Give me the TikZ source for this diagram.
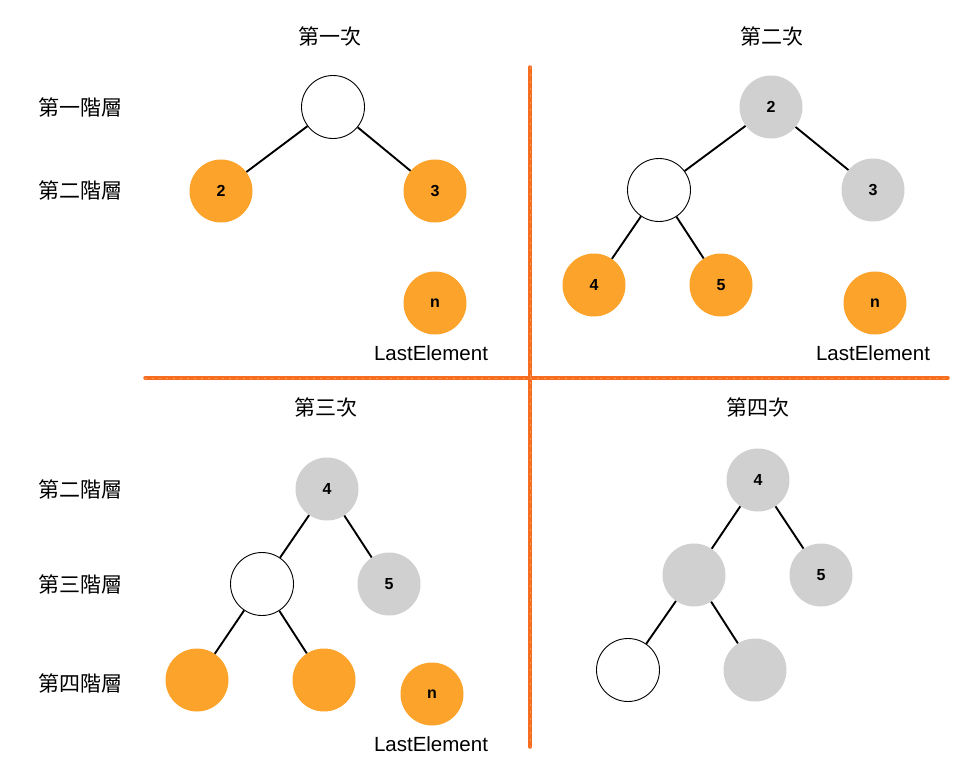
\documentclass[tikz,border=0pt]{standalone}
\usepackage{fontspec}
\setmainfont{Liberation Sans}
\newfontfamily\cjk{Noto Sans CJK TC}
\definecolor{orfill}{RGB}{252,163,43}
\definecolor{grfill}{RGB}{208,208,208}
\definecolor{divider}{RGB}{248,110,32}
\definecolor{dividerlight}{RGB}{252,150,90}
\begin{document}
\begin{tikzpicture}[x=1pt,y=-1pt,
  base/.style={circle,minimum size=63pt,inner sep=0pt,font=\fontsize{16}{18}\selectfont\bfseries},
  wnode/.style={base,draw=black,line width=0.9pt,fill=white},
  onode/.style={base,fill=orfill},
  gnode/.style={base,fill=grfill},
  lbl/.style={font=\cjk\fontsize{21}{25}\selectfont,inner sep=0pt},
  last/.style={font=\fontsize{20.5}{24}\selectfont,inner sep=0pt},
  edge/.style={line width=1.9pt,black},
  divline/.style={line width=3.5pt,divider,line cap=round},
  divtex/.style={line width=0.8pt,dividerlight,dash pattern=on 2pt off 5pt}]
\useasboundingbox (0,0) rectangle (956,771);
% dividers
\coordinate (vt) at (530,67);
\coordinate (vb) at (530,747);
\coordinate (hl) at (145,378);
\coordinate (hr) at (948,378);
\draw[divline] (vt) -- (vb);
\draw[divline] (hl) -- (hr);
\draw[divtex] (vt) -- (vb);
\draw[divtex] (hl) -- (hr);
% Quadrant 1
\node[lbl] (t1) at (330,36) {第一次};
\node[lbl] (l11) at (80,107) {第一階層};
\node[lbl] (l12) at (80,190) {第二階層};
\node[wnode] (a1) at (333,107) {};
\node[onode] (a2) at (221,191) {2};
\node[onode] (a3) at (435,191) {3};
\node[onode] (an) at (435,303) {n};
\node[last] (al) at (431,353) {LastElement};
\draw[edge] (a1) -- (a2);
\draw[edge] (a1) -- (a3);
% Quadrant 2
\node[lbl] (t2) at (772,36) {第二次};
\node[gnode] (b1) at (771,107) {2};
\node[wnode] (b2) at (659,190) {};
\node[gnode] (b3) at (873,190) {3};
\node[onode] (b4) at (594,285) {4};
\node[onode] (b5) at (721,285) {5};
\node[onode] (bn) at (875,303) {n};
\node[last] (bl) at (873,353) {LastElement};
\draw[edge] (b1) -- (b2);
\draw[edge] (b1) -- (b3);
\draw[edge] (b2) -- (b4);
\draw[edge] (b2) -- (b5);
% Quadrant 3
\node[lbl] (t3) at (326,407) {第三次};
\node[lbl] (l32) at (80,489) {第二階層};
\node[lbl] (l33) at (80,584) {第三階層};
\node[lbl] (l34) at (80,683) {第四階層};
\node[gnode] (c1) at (327,489) {4};
\node[wnode] (c2) at (262,584) {};
\node[gnode] (c3) at (389,584) {5};
\node[onode] (c4) at (197,680) {};
\node[onode] (c5) at (324,680) {};
\node[onode] (cn) at (432,694) {n};
\node[last] (cl) at (431,744) {LastElement};
\draw[edge] (c1) -- (c2);
\draw[edge] (c1) -- (c3);
\draw[edge] (c2) -- (c4);
\draw[edge] (c2) -- (c5);
% Quadrant 4
\node[lbl] (t4) at (758,407) {第四次};
\node[gnode] (d1) at (758,480) {4};
\node[gnode] (d2) at (694,575) {};
\node[gnode] (d3) at (821,575) {5};
\node[wnode] (d4) at (628,670) {};
\node[gnode] (d5) at (755,670) {};
\draw[edge] (d1) -- (d2);
\draw[edge] (d1) -- (d3);
\draw[edge] (d2) -- (d4);
\draw[edge] (d2) -- (d5);
\end{tikzpicture}
\end{document}
